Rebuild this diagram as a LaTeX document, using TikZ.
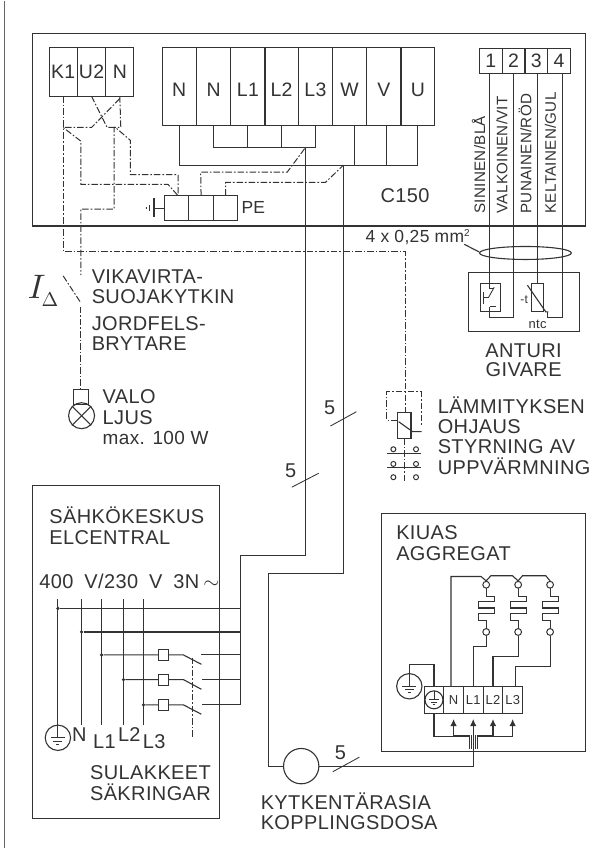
\documentclass[tikz,border=0pt]{standalone}
\usepackage{fontspec}
\setmainfont[LetterSpace=2.0]{Liberation Sans}
\usetikzlibrary{arrows.meta}
\definecolor{ink}{rgb}{0.2,0.2,0.2}
\tikzset{
  wire/.style={color=ink,line width=1.1pt},
  ctrl/.style={color=ink,line width=1pt,dash pattern=on 6.5pt off 2pt on 1.6pt off 2pt},
  thin wire/.style={color=ink,line width=0.85pt},
  cell/.style={draw=ink,line width=1.1pt,rectangle,inner sep=0pt,outer sep=0pt,text=ink},
  topcell/.style={cell,minimum width=28pt,minimum height=49pt,font=\fontsize{19.5}{22}\selectfont},
  maincell/.style={cell,minimum width=34.3pt,minimum height=78pt,text height=20pt,text depth=0pt,font=\fontsize{19.5}{22}\selectfont},
  sensecell/.style={cell,minimum width=22.8pt,minimum height=25pt,font=\fontsize{19.5}{22}\selectfont},
  kcell/.style={cell,minimum width=19.7pt,minimum height=27.3pt,font=\fontsize{13}{15}\selectfont},
  pecell/.style={cell,minimum width=24.6pt,minimum height=25pt},
  fusebox/.style={cell,minimum width=9.5pt,minimum height=11pt},
  jdot/.style={circle,fill=ink,inner sep=0pt,minimum size=3.6pt},
  lug/.style={circle,draw=ink,line width=1pt,inner sep=0pt,minimum size=6.8pt},
  arrowpin/.style={wire,-{Latex[length=7pt,width=6.5pt]}},
  txt/.style={inner sep=0pt,anchor=base west,text=ink,font=\fontsize{20}{24}\selectfont},
  smalltxt/.style={txt,font=\fontsize{15.2}{18}\selectfont},
}
\begin{document}
\begin{tikzpicture}[x=1pt,y=-1pt]
\fill[color=white] (0,0) rectangle (612,849);
\draw[color=ink!75,line width=1.4pt] (4.7,0) -- (4.7,849);
% control unit
\draw[wire] (32.7,33) rectangle (586.7,225.7);
\node[topcell] (k1) at (63.3,71.2) {K1};
\node[topcell,minimum width=28.7pt] (u2) at (91.7,71.2) {U2};
\node[topcell] (nk) at (120,71.2) {N};
\node[maincell] (n1) at (179.5,85.7) {N};
\node[maincell] (n2) at (214,85.7) {N};
\node[maincell] (l1) at (248.3,85.7) {L1};
\node[maincell] (l2) at (282,85.7) {L2};
\node[maincell] (l3) at (315.9,85.7) {L3};
\node[maincell] (w) at (350.2,85.7) {W};
\node[maincell] (v) at (384.5,85.7) {V};
\node[maincell] (u) at (418.5,85.7) {U};
\node[sensecell] (t1) at (491.6,60.2) {1};
\node[sensecell] (t2) at (514.5,60.2) {2};
\node[sensecell] (t3) at (537.2,60.2) {3};
\node[sensecell] (t4) at (559.9,60.2) {4};
\node[txt] (c150) at (381,202.3) {C150};
% buses
\draw[wire] (n1.south) -- ++(0,40) -| (u.south);
\draw[wire] ([xshift=5pt]w.south) -- ++(0,40);
\draw[wire] ([xshift=3pt]v.south) -- ++(0,40);
\draw[wire] (n2.south) -- ++(0,22.3) -| (l3.south);
\draw[wire] (l1.south) -- ++(0,22.3);
\draw[wire] (l2.south) -- ++(0,22.3);
\coordinate (busa) at (306,147);
\coordinate (busb) at (344,164.7);
% PE
\node[pecell] (pe1) at (176.8,207.8) {};
\node[pecell] (pe2) at (201.4,207.8) {};
\node[pecell] (pe3) at (226,207.8) {};
\node[txt,font=\fontsize{17.5}{20}\selectfont] (pe) at (241.7,213.3) {PE};
\draw[wire] (pe1.west) -- (154.3,207.8);
\draw[wire] (154.3,198) -- (154.3,216.7);
\draw[wire] (150,205) -- (150,211);
\draw[wire] (146.5,207) -- (146.5,209);
% control wires
\draw[ctrl] (k1.south) -- (63.3,251) -- (405.7,251) -- (405.7,412.3);
\draw[ctrl] (u2.south) -- (107.3,127) -- (115.7,127) -- (130.7,140) -- (130.7,174.3) -- (178.3,174.3) -- (178.3,195.3);
\draw[ctrl] (nk.south) -- (121,127) -- (114.3,127) -- (114.3,208.7) -- (81,208.7) -- (81,275);
\draw[ctrl] (120,98) -- (91.7,127) -- (63.3,127) -- (81,140.7) -- (81,184) -- (168.3,184) -- (178.3,195.3);
\draw[ctrl] (pe2.north) -- (201,171.7) -- (287.7,171.7) -- (busa);
\draw[ctrl] (pe3.north) -- (226,182) -- (326,182) -- (busb);
% earth-leakage breaker and lamp
\draw[ctrl] (63.3,275.7) -- (81,302.7);
\draw[ctrl] (81,306.7) -- (81,389.3);
\node[inner sep=0pt,scale=3.4,text=ink] (idelta) at (36.7,287) {$I$};
\node[inner sep=0pt,scale=2,text=ink] (deltamark) at (50,299) {$\Delta$};
\node[txt] (vika) at (91.7,283.7) {VIKAVIRTA-};
\node[txt] (suoja) at (91.7,303.7) {SUOJAKYTKIN};
\node[txt] (jord) at (91.7,330) {JORDFELS-};
\node[txt] (bryt) at (91.7,350) {BRYTARE};
\node[cell,minimum width=14.7pt,minimum height=14.7pt] (lamph) at (81.4,396.7) {};
\node[circle,draw=ink,line width=1.1pt,inner sep=0pt,minimum size=26pt] (lamp) at (81.7,415.7) {};
\draw[wire] (lamp.north west) -- (lamp.south east);
\draw[wire] (lamp.north east) -- (lamp.south west);
\node[txt] (valo) at (102.7,403.7) {VALO};
\node[txt] (ljus) at (102.7,424) {LJUS};
\node[txt,font=\fontsize{19}{22}\selectfont] (maxw) at (102.7,444.5) {max. 100 W};
% sensor cable
\draw[wire] (490,72.7) -- (490,283.3);
\draw[wire] (514.3,72.7) -- (514.3,317.3) -- (490.3,317.3) -- (490.3,306.7);
\draw[wire] (538.7,72.7) -- (538.7,283.3);
\draw[wire] (563,72.7) -- (563,317.3) -- (548.5,317.3) -- (548.5,311.7);
\node[smalltxt,rotate=90] (sin) at (486,213.3) {SININEN/BLÅ};
\node[smalltxt,rotate=90] (val) at (508.3,213.3) {VALKOINEN/VIT};
\node[smalltxt,rotate=90] (pun) at (532.3,213.3) {PUNAINEN/RÖD};
\node[smalltxt,rotate=90] (kel) at (556.7,213.3) {KELTAINEN/GUL};
\node[txt,font=\fontsize{17.5}{20}\selectfont] (cable) at (366,242.3) {4 x 0,25 mm\raisebox{6pt}{\fontsize{10}{12}\selectfont 2}};
\draw[wire] (526.3,252.7) ellipse (46 and 6.5);
\draw[wire] (465,244) -- (480,251.7);
% sensor
\draw[wire] (469,272.3) rectangle (580.3,331.7);
\node[cell,minimum width=19.6pt,minimum height=27.7pt] (limit) at (491.5,297.2) {};
\node[cell,minimum width=11.3pt,minimum height=27.7pt] (ntcbox) at (538.4,297.2) {};
\draw[thin wire] (490,283.3) -- (490,288) -- (495,288);
\draw[thin wire] (495,287) -- (489.3,297.3) -- (484.3,297.3);
\draw[thin wire] (484.3,291.7) -- (484.3,304);
\draw[thin wire] (490.3,306.7) -- (497,306.7);
\draw[wire] (528.3,285) -- (546.7,311.7) -- (549.3,311.7);
\node[txt,font=\fontsize{12}{14}\selectfont] (mt) at (521,303) {-t};
\node[txt,anchor=base,font=\fontsize{13}{15}\selectfont] (ntc) at (538.5,328) {ntc};
\node[txt,anchor=base] (anturi) at (524.5,357) {ANTURI};
\node[txt,anchor=base] (givare) at (524.5,376.5) {GIVARE};
% relay
\draw[ctrl] (398.3,420) -- (387.3,420) -- (387.3,391.7) -- (421.7,391.7) -- (421.7,426.7);
\node[cell,minimum width=13.4pt,minimum height=26pt] (relay) at (405,425.3) {};
\draw[wire] (399.3,421.7) -- (413.3,431.7) -- (422.3,431.7);
\node[lug,minimum size=5pt] (c1a) at (394,449.3) {};
\node[lug,minimum size=5pt] (c1b) at (416.7,449.3) {};
\node[lug,minimum size=5pt] (c2a) at (394,464) {};
\node[lug,minimum size=5pt] (c2b) at (416.7,464) {};
\node[lug,minimum size=5pt] (c3a) at (394,477.3) {};
\node[lug,minimum size=5pt] (c3b) at (416.7,477.3) {};
\draw[wire] (388,453.3) -- (422,453.3);
\draw[wire] (388,467.3) -- (422,467.3);
\draw[ctrl] (relay.south) -- (405,481);
\node[txt] (lamm) at (438.3,413.7) {LÄMMITYKSEN};
\node[txt] (ohj) at (438.3,434) {OHJAUS};
\node[txt] (sty) at (438.3,454) {STYRNING AV};
\node[txt] (upp) at (438.3,475) {UPPVÄRMNING};
% supply cables
\node[circle,draw=ink,line width=1.1pt,inner sep=0pt,minimum size=35.4pt] (dosa) at (301.7,766.7) {};
\draw[wire] (busa) -- (306,555.3) -- (240.7,555.3) -- (240.7,705.3);
\draw[wire] (busb) -- (344,573.3) -- (269.3,573.3) -- (269.3,766.7) -- (dosa.west);
\draw[wire] (dosa.east) -- (474,766.7) -- (474,750);
\draw[thin wire] (292.3,487.3) -- (319.3,473.3);
\draw[thin wire] (331,426) -- (357,411.7);
\draw[thin wire] (333.3,772.3) -- (360,757.7);
\node[txt] (five1) at (285.5,477.7) {5};
\node[txt] (five2) at (324.5,414.7) {5};
\node[txt] (five3) at (335.2,760) {5};
\node[txt] (kyt) at (261,810) {KYTKENTÄRASIA};
\node[txt] (kop) at (261,830) {KOPPLINGSDOSA};
% distribution board
\draw[wire] (32.7,485.3) rectangle (220,819);
\node[txt] (sahko) at (49.3,523.7) {SÄHKÖKESKUS};
\node[txt] (elc) at (49.3,544.7) {ELCENTRAL};
\node[txt] (volt) at (39.3,589) {400\hspace{5pt} V/230\hspace{5pt} V\hspace{5pt} 3N};
\node[txt,font=\fontsize{20}{24}\selectfont] (tilde) at (203.5,589) {$\sim$};
\node[circle,draw=ink,line width=1.1pt,inner sep=0pt,minimum size=25.4pt] (gnd) at (58,738.3) {};
\begin{scope}[shift={(58,738.3)}] %earth
  \draw[thin wire] (-7,0) -- (7,0);
  \draw[thin wire] (-4.5,3.3) -- (4.5,3.3);
  \draw[thin wire] (-1.5,6.6) -- (1.5,6.6);
\end{scope}
\draw[wire] (58,599.3) -- (gnd.center);
\draw[wire] (81.7,599.3) -- (81.7,725);
\draw[wire] (101.7,599.3) -- (101.7,725);
\draw[wire] (123.7,599.3) -- (123.7,725);
\draw[wire] (143.7,599.3) -- (143.7,725);
\node[txt] (ln) at (72,742) {N};
\node[txt] (ll1) at (93,749) {L1};
\node[txt] (ll2) at (118,742) {L2};
\node[txt] (ll3) at (143,749) {L3};
\node[jdot] (j0) at (58,608.7) {};
\node[jdot] (jn) at (81.7,632.3) {};
\node[jdot] (j1) at (101.7,655.3) {};
\node[jdot] (j2) at (123.7,680) {};
\node[jdot] (j3) at (143.7,705.3) {};
\draw[wire] (j0) -- (240.7,608.7);
\draw[wire] (jn) -- (240.7,632.3);
\node[fusebox] (f1) at (163.7,655.3) {};
\node[fusebox] (f2) at (163.7,680) {};
\node[fusebox] (f3) at (163.7,705.3) {};
\draw[wire] (j1) -- (f1) -- (183.7,655.3) -- (201.7,664.7);
\draw[wire] (j2) -- (f2) -- (183.7,680) -- (201.7,689.7);
\draw[wire] (j3) -- (f3) -- (183.7,705.3) -- (201.7,714.7);
\draw[wire] (201.7,655.3) -- (240.7,655.3);
\draw[wire] (202.7,680) -- (240.7,680);
\draw[wire] (202.7,705.3) -- (240.7,705.3);
\draw[ctrl] (193.3,658) -- (193.3,737.7);
\node[txt] (sul) at (90,780) {SULAKKEET};
\node[txt] (sak) at (90,800.7) {SÄKRINGAR};
% heater
\draw[wire] (381.7,514) rectangle (586.7,751.7);
\node[txt] (kiuas) at (396.7,540) {KIUAS};
\node[txt] (aggr) at (396.7,561) {AGGREGAT};
\node[kcell] (ke) at (434.7,700.3) {};
\node[kcell] (kn) at (454.3,700.3) {N};
\node[kcell] (kl1) at (474,700.3) {L1};
\node[kcell] (kl2) at (493.8,700.3) {L2};
\node[kcell] (kl3) at (513.5,700.3) {L3};
\node[circle,draw=ink,line width=1.1pt,inner sep=0pt,minimum size=18pt] (gnds) at (434.7,700.3) {};
\begin{scope}[shift={(434.7,700.3)},scale=0.72] %small earth
  \draw[thin wire] (0,-12.5) -- (0,0);
  \draw[thin wire] (-7,0) -- (7,0);
  \draw[thin wire] (-4.5,3.3) -- (4.5,3.3);
  \draw[thin wire] (-1.5,6.6) -- (1.5,6.6);
\end{scope}
\node[circle,draw=ink,line width=1.1pt,inner sep=0pt,minimum size=25.4pt] (gndb) at (410,686.7) {};
\begin{scope}[shift={(410,686.7)}] %big earth
  \draw[thin wire] (0,-12.7) -- (0,0);
  \draw[thin wire] (-7,0) -- (7,0);
  \draw[thin wire] (-4.5,3.3) -- (4.5,3.3);
  \draw[thin wire] (-1.5,6.6) -- (1.5,6.6);
\end{scope}
\draw[wire] (gndb.north) -- (410,664.7) -| (ke.north);
\node[lug] (ha1) at (487,585) {};
\node[lug] (ha2) at (487,632.3) {};
\node[lug] (hb1) at (519,585) {};
\node[lug] (hb2) at (519,632.3) {};
\node[lug] (hc1) at (551,585) {};
\node[lug] (hc2) at (551,632.3) {};
\begin{scope}[shift={(487,0)}] %E1
  \draw[wire] (0,588.3) -- (0,596.7) -- (8,596.7) -- (8,601.7) -- (-8,601.7) -- (-8,608.3) -- (8,608.3) -- (8,614) -- (-8,614) -- (-8,620.7) -- (0,620.7) -- (0,629);
\end{scope}
\begin{scope}[shift={(519,0)}] %E2
  \draw[wire] (0,588.3) -- (0,596.7) -- (8,596.7) -- (8,601.7) -- (-8,601.7) -- (-8,608.3) -- (8,608.3) -- (8,614) -- (-8,614) -- (-8,620.7) -- (0,620.7) -- (0,629);
\end{scope}
\begin{scope}[shift={(551,0)}] %E3
  \draw[wire] (0,588.3) -- (0,596.7) -- (8,596.7) -- (8,601.7) -- (-8,601.7) -- (-8,608.3) -- (8,608.3) -- (8,614) -- (-8,614) -- (-8,620.7) -- (0,620.7) -- (0,629);
\end{scope}
\draw[wire] ([xshift=-2.6pt]kn.north) -- (451.7,576.7) -- (481.7,576.7) -- (ha1.north);
\draw[wire] (ha1.north) -- (491.7,576) -- (513.3,576) -- (hb1.north);
\draw[wire] (hb1.north) -- (523.3,576) -- (546.7,576) -- (hc1.north);
\draw[wire] (ha2.south) -- (487,647.3) -| (kl1.north);
\draw[wire] (hb2.south) -- (519,657.3) -| (kl2.north);
\draw[wire] (hc2.south) -- (551,667) -| ([xshift=2.5pt]kl3.north);
% cable fan-out
\draw[arrowpin] (471,736) -- (454.3,736) -- (454.3,719.5);
\draw[arrowpin] (474,737) -- (474,719.5);
\draw[arrowpin] (477.3,736) -- (493.8,736) -- (493.8,719.5);
\draw[arrowpin] (478.3,737.3) -- (513.5,737.3) -- (513.5,719.5);
\draw[wire] (ke.south) -- (434.7,737.3) -- (470,737.3);
\draw[wire] (470,736) -- (470,750);
\draw[wire] (472,736) -- (472,750);
\draw[wire] (474,736) -- (474,750);
\draw[wire] (476,736) -- (476,750);
\draw[wire] (478.3,736) -- (478.3,750);
\end{tikzpicture}
\end{document}
